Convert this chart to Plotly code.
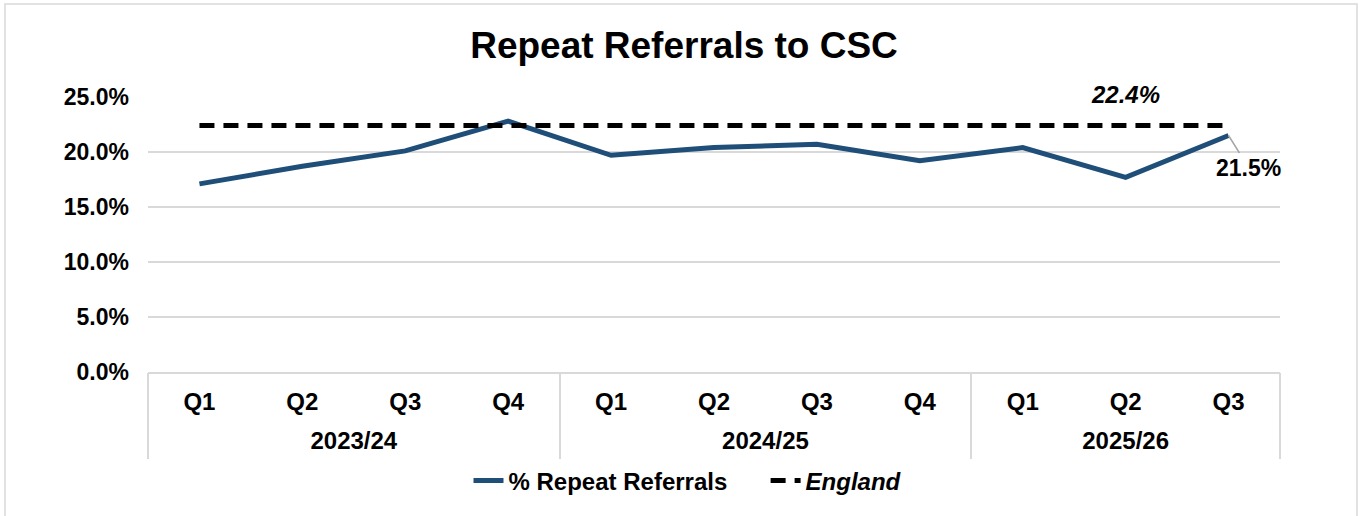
import plotly.graph_objects as go

# Financial years and quarters
quarters = ["Q1", "Q2", "Q3", "Q4", "Q1", "Q2", "Q3", "Q4", "Q1", "Q2", "Q3"]
year_labels = ["2023/24", "2024/25", "2025/26"]
quarters_per_year = [4, 4, 3]

# Percentage of referrals that are repeat referrals
repeat_pct = [17.1, 18.7, 20.1, 22.8, 19.7, 20.4, 20.7, 19.2, 20.4, 17.7, 21.5]
# England benchmark
england_pct = [22.4] * 11

y_ticks = [0, 5, 10, 15, 20, 25]

FONT = "Liberation Sans, Arial, sans-serif"
BLUE = "#1F4E79"
GRID = "#D9D9D9"

W, H = 1363, 516
L, R, T, B = 148, 83, 97, 144
PW, PH = W - L - R, H - T - B


def px_x(px):
    return (px - L) / PW


def px_y(py):
    return (H - B - py) / PH


# Category positions, year-group centres and boundaries
pos = list(range(len(quarters)))
bounds = [-0.5]
for n in quarters_per_year:
    bounds.append(bounds[-1] + n)
year_centres = [(a + b) / 2 for a, b in zip(bounds[:-1], bounds[1:])]
x_range = [bounds[0], bounds[-1]]

NBSP = "\u00a0"

fig = go.Figure()
fig.add_trace(go.Scatter(
    x=pos, y=repeat_pct, mode="lines", name="% Repeat Referrals" + NBSP * 5,
    line=dict(color=BLUE, width=5),
))
fig.add_trace(go.Scatter(
    x=pos, y=england_pct, mode="lines", name="<i>England</i>",
    line=dict(color="black", width=5, dash="15px,9px"),
))
# Empty carriers so the year-label and divider axes are drawn
fig.add_trace(go.Scatter(
    x=year_centres, y=[None] * len(year_centres), xaxis="x2", yaxis="y",
    mode="lines", showlegend=False, hoverinfo="skip",
))
fig.add_trace(go.Scatter(
    x=bounds, y=[None] * len(bounds), xaxis="x3", yaxis="y",
    mode="lines", showlegend=False, hoverinfo="skip",
))

# Value labels
fig.add_annotation(
    x=pos[9], y=england_pct[9], xref="x", yref="y",
    text="<b><i>22.4%</i></b>", showarrow=False, yshift=31,
    font=dict(family=FONT, size=24, color="black"),
)
fig.add_annotation(
    x=pos[10], y=repeat_pct[10], xref="x", yref="y",
    text="<b>21.5%</b>", showarrow=True, arrowhead=0, arrowwidth=1.5,
    arrowcolor="#A6A6A6", ax=20, ay=32, standoff=0,
    font=dict(family=FONT, size=23, color="black"),
)

# Outer chart border
fig.add_shape(
    type="rect", xref="paper", yref="paper",
    x0=px_x(5), x1=px_x(1357), y0=px_y(530), y1=px_y(4),
    line=dict(color="#D9D9D9", width=1.5), fillcolor="rgba(0,0,0,0)", layer="below",
)

tick_font = dict(family=FONT, size=24, color="black", weight="bold")

fig.update_layout(
    width=W, height=H,
    margin=dict(l=L, r=R, t=T, b=B),
    paper_bgcolor="white", plot_bgcolor="white",
    font=dict(family=FONT, color="black"),
    title=dict(
        text="<b>Repeat Referrals to CSC</b>",
        x=684 / W, xref="container", xanchor="center",
        y=1 - 45 / H, yref="container", yanchor="middle",
        font=dict(family=FONT, size=37, color="black"),
    ),
    showlegend=True,
    legend=dict(
        orientation="h", x=px_x(688), y=px_y(481),
        xanchor="center", yanchor="middle",
        font=dict(family=FONT, size=24, color="black", weight="bold"),
        tracegroupgap=0,
    ),
    # quarter labels
    xaxis=dict(
        range=x_range, tickvals=pos, ticktext=quarters,
        ticks="outside", ticklen=7, tickcolor="rgba(0,0,0,0)",
        showline=True, linecolor=GRID, linewidth=1.5,
        showgrid=False, zeroline=False, tickfont=tick_font,
    ),
    # financial-year labels
    xaxis2=dict(
        overlaying="x", anchor="y", side="bottom",
        range=x_range, tickvals=year_centres, ticktext=year_labels,
        ticks="outside", ticklen=47, tickcolor="rgba(0,0,0,0)",
        showline=False, showgrid=False, zeroline=False, tickfont=tick_font,
    ),
    # year-group dividers
    xaxis3=dict(
        overlaying="x", anchor="y", side="bottom",
        range=x_range, tickvals=bounds, showticklabels=False,
        ticks="outside", ticklen=86, tickwidth=1.5, tickcolor=GRID,
        showline=False, showgrid=False, zeroline=False,
    ),
)

fig.update_yaxes(
    range=[0, 25], tickvals=y_ticks,
    ticktext=[f"{v:.1f}%" for v in y_ticks],
    showgrid=True, gridcolor=GRID, gridwidth=1.5,
    zeroline=False, showline=False,
    tickfont=dict(family=FONT, size=23, color="black", weight="bold"),
    ticklabelstandoff=18,
)

fig.write_html("out.html")
